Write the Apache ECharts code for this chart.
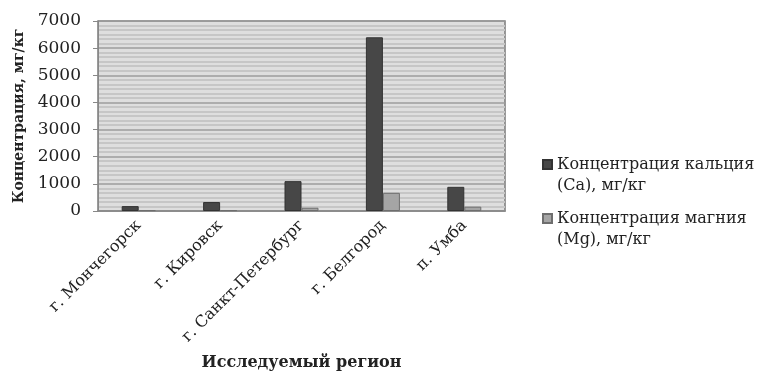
<!DOCTYPE html>
<html>
<head>
<meta charset="utf-8">
<script src="https://cdn.jsdelivr.net/npm/echarts@6/dist/echarts.min.js"></script>
<style>
  html, body { margin: 0; padding: 0; background: #fff; }
  #chart { width: 760px; height: 374px; }
</style>
</head>
<body>
<div id="chart"></div>
<script>
// данные
var regions = ['г. Мончегорск', 'г. Кировск', 'г. Санкт-Петербург', 'г. Белгород', 'п. Умба'];
var calcium = [180, 330, 1100, 6400, 890];
var magnesium = [30, 30, 120, 670, 160];
var yTicks = { min: 0, max: 7000, interval: 1000 };
var seriesNames = ['Концентрация кальция\n(Ca), мг/кг', 'Концентрация магния\n(Mg), мг/кг'];

var serif = '"DejaVu Serif", "Liberation Serif", serif';
// квадрат сверху, чтобы значок стоял у первой строки подписи
var legendIcon = 'path://M0,0h9v9h-9z M0,30h0';

var chart = echarts.init(document.getElementById('chart'));
chart.setOption({
  animation: false,
  backgroundColor: '#ffffff',
  textStyle: { fontFamily: serif, color: '#222' },
  grid: {
    left: 98, right: 255, top: 21, bottom: 163,
    outerBoundsMode: 'none',
    show: true,
    backgroundColor: '#dedede',
    borderColor: '#7a7a7a',
    borderWidth: 1.5
  },
  legend: {
    orient: 'vertical',
    left: 537,
    top: 149,
    icon: legendIcon,
    itemWidth: 9,
    itemHeight: 30,
    itemGap: 12,
    textStyle: { fontFamily: serif, fontSize: 16, color: '#222', lineHeight: 21 },
    data: seriesNames
  },
  xAxis: {
    type: 'category',
    data: regions,
    name: 'Исследуемый регион',
    nameLocation: 'middle',
    nameGap: 144,
    nameTextStyle: { fontFamily: serif, fontSize: 16, fontWeight: 'bold', color: '#222' },
    axisLine: { lineStyle: { color: '#888', width: 1.5 } },
    axisTick: { show: false },
    axisLabel: { rotate: 45, fontSize: 16, fontFamily: serif, color: '#222', margin: 12 }
  },
  yAxis: {
    type: 'value',
    min: yTicks.min,
    max: yTicks.max,
    interval: yTicks.interval,
    name: 'Концентрация, мг/кг',
    nameLocation: 'middle',
    nameGap: 68,
    nameTextStyle: { fontFamily: serif, fontSize: 14, fontWeight: 'bold', color: '#222' },
    axisLine: { show: true, lineStyle: { color: '#888' } },
    axisTick: { show: true, length: 5, lineStyle: { color: '#888' } },
    axisLabel: {
      fontSize: 17, fontFamily: serif, color: '#222', margin: 17,
      formatter: function (v) { return String(v); }
    },
    splitLine: { lineStyle: { color: '#9c9c9c', width: 1.5 } },
    minorTick: { show: false, splitNumber: 6 },
    minorSplitLine: { show: true, lineStyle: { color: '#c6c6c6', width: 2 } }
  },
  series: [
    {
      name: seriesNames[0],
      type: 'bar',
      data: calcium,
      barWidth: 17,
      barGap: '0%',
      itemStyle: { color: '#474747', borderColor: '#333', borderWidth: 1 }
    },
    {
      name: seriesNames[1],
      type: 'bar',
      data: magnesium,
      barWidth: 17,
      itemStyle: { color: '#a5a5a5', borderColor: '#6e6e6e', borderWidth: 1 }
    }
  ]
});
</script>
</body>
</html>
